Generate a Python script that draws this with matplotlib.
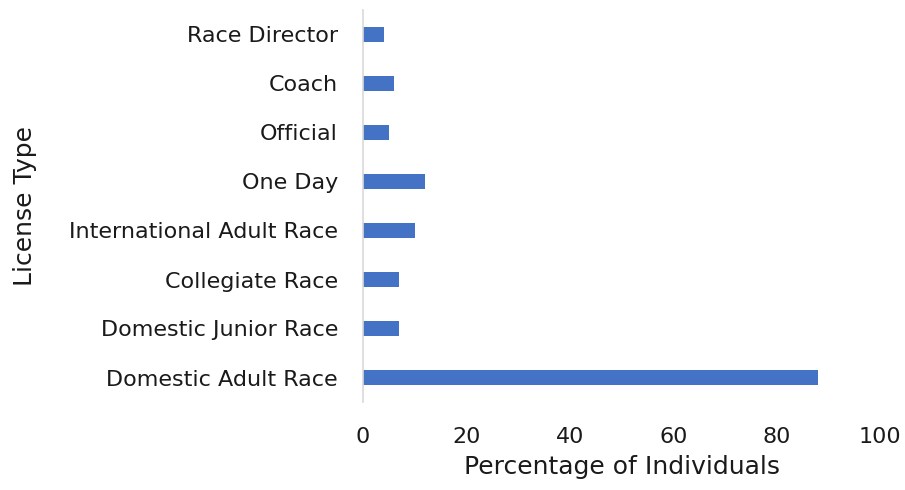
import matplotlib.pyplot as plt

categories = ["Domestic Adult Race", "Domestic Junior Race", "Collegiate Race",
              "International Adult Race", "One Day", "Official", "Coach", "Race Director"]
values = [88, 7, 7, 10, 12, 5, 6, 4]

fig = plt.figure(figsize=(9.05, 4.9), dpi=100)
ax = fig.add_axes([363 / 905, 1 - 402 / 490, (880 - 363) / 905, (402 - 10) / 490])

ax.barh(range(len(categories)), values, height=0.32, color="#4472C4")
ax.set_yticks(range(len(categories)))
ax.set_yticklabels(categories, fontsize=16, color="#1a1a1a")
ax.set_xlim(0, 100)
ax.set_ylim(-0.5, 7.5)
ax.set_xticks([0, 20, 40, 60, 80, 100])
ax.tick_params(axis="x", labelsize=16, colors="#1a1a1a", length=0, pad=18)
ax.tick_params(axis="y", length=0, pad=18)

for s in ["top", "right", "bottom"]:
    ax.spines[s].set_visible(False)
ax.spines["left"].set_color("#d9d9d9")
ax.spines["left"].set_linewidth(1.2)

ax.set_xlabel("Percentage of Individuals", fontsize=18, color="#1a1a1a", labelpad=6)
ax.set_ylabel("License Type", fontsize=18, color="#1a1a1a", va="center")
ax.yaxis.set_label_coords(-0.654, 0.5)

fig.savefig("out.png", dpi=100)
